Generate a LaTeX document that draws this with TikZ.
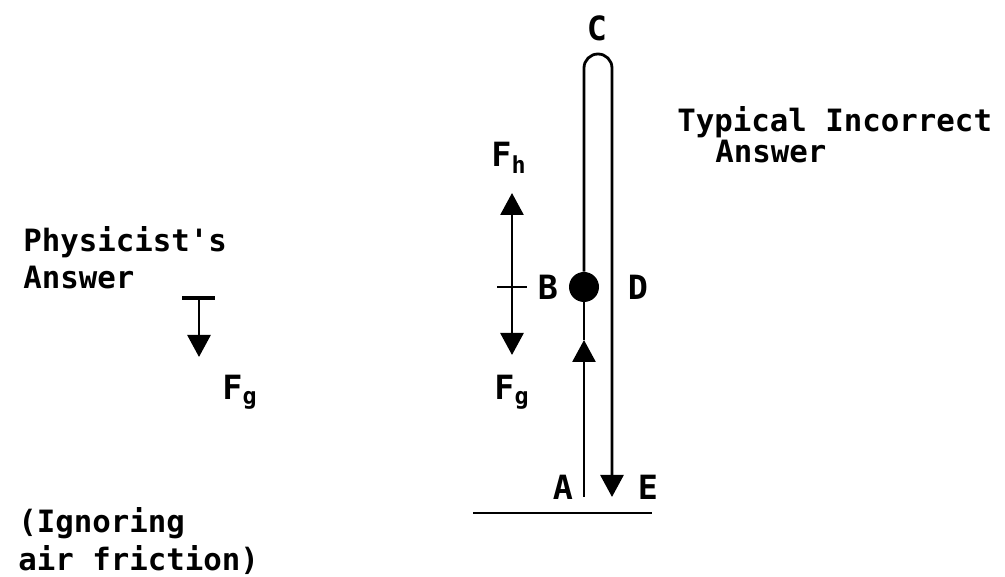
\documentclass[tikz,border=0pt]{standalone}
\usepackage{fontspec}
\setmonofont{DejaVu Sans Mono}
\usetikzlibrary{
  arrows.meta,
  positioning
}
\tikzset{
  pathline/.style={
    line width=1.6pt, color=black
  },
  forcearrow/.style={
    line width=1.6pt, -{Triangle[width=0.46cm, length=0.44cm]}
  },
  notetext/.style={
    font=\fontsize{17.5}{20.5}\selectfont\ttfamily\bfseries,
    anchor=west, inner sep=0pt
  },
  ptlabel/.style={
    font=\fontsize{19}{22}\selectfont\ttfamily\bfseries, inner sep=0pt
  },
  ballnode/.style={
    circle, fill=black, minimum size=0.6cm, inner sep=0pt
  },
}
\newcommand{\force}[1]{F\textsubscript{#1}}

\begin{document}
\begin{tikzpicture}[x=0.02cm, y=0.02cm]
  \useasboundingbox[fill=white] (0,0) rectangle (1005,577);

  \coordinate (launch) at (584,80);
  \coordinate (upmark) at (584,237);
  \coordinate (rise)   at (584,509);
  \coordinate (land)   at (612,80);
  \coordinate (gl)     at (473,64);
  \coordinate (gr)     at (652,64);
  \node[ballnode] (ball) at (584,290) {};

  \node[ptlabel] (lblC) at (597,549) {C};
  \node[ptlabel] (lblB) at (548,290) {B};
  \node[ptlabel] (lblD) at (638,290) {D};
  \node[ptlabel] (lblA) at (563,90)  {A};
  \node[ptlabel] (lblE) at (648,90)  {E};

  \coordinate (fmid)  at (512,290);
  \coordinate (fhtip) at (512,384);
  \coordinate (fgtip) at (512,222);
  \coordinate (tickl) at (497,290);
  \coordinate (tickr) at (527,290);
  \node[ptlabel] (fh) at (509,419) {\force{h}};
  \node[ptlabel] (fg) at (512,185) {\force{g}};

  \node[notetext] (typ)  at (677,455) {Typical Incorrect};
  \node[notetext] (typa) at (715,425) {Answer};

  \node[notetext] (phys)  at (23,335) {Physicist's};
  \node[notetext] (physa) at (23,299) {Answer};
  \coordinate (barl)  at (182,279);
  \coordinate (barr)  at (215,279);
  \coordinate (pbase) at (199,279);
  \coordinate (ptip)  at (199,220);
  \node[ptlabel] (pfg) at (240,185) {\force{g}};

  \node[notetext] (ign)  at (18,54) {(Ignoring};
  \node[notetext] (ignb) at (18,17) {air friction)};

  \draw[pathline] (gl) -- (gr);
  \draw[forcearrow] (launch) -- (upmark);
  \draw[pathline] (upmark) -- (ball);
  \draw[forcearrow] (ball) -- (rise) arc[start angle=180, end angle=0, radius=14] -- (land);

  \draw[forcearrow] (fmid) -- (fhtip);
  \draw[forcearrow] (fmid) -- (fgtip);
  \draw[pathline] (tickl) -- (tickr);

  \draw[pathline, line width=2.4pt] (barl) -- (barr);
  \draw[forcearrow] (pbase) -- (ptip);
\end{tikzpicture}
\end{document}
